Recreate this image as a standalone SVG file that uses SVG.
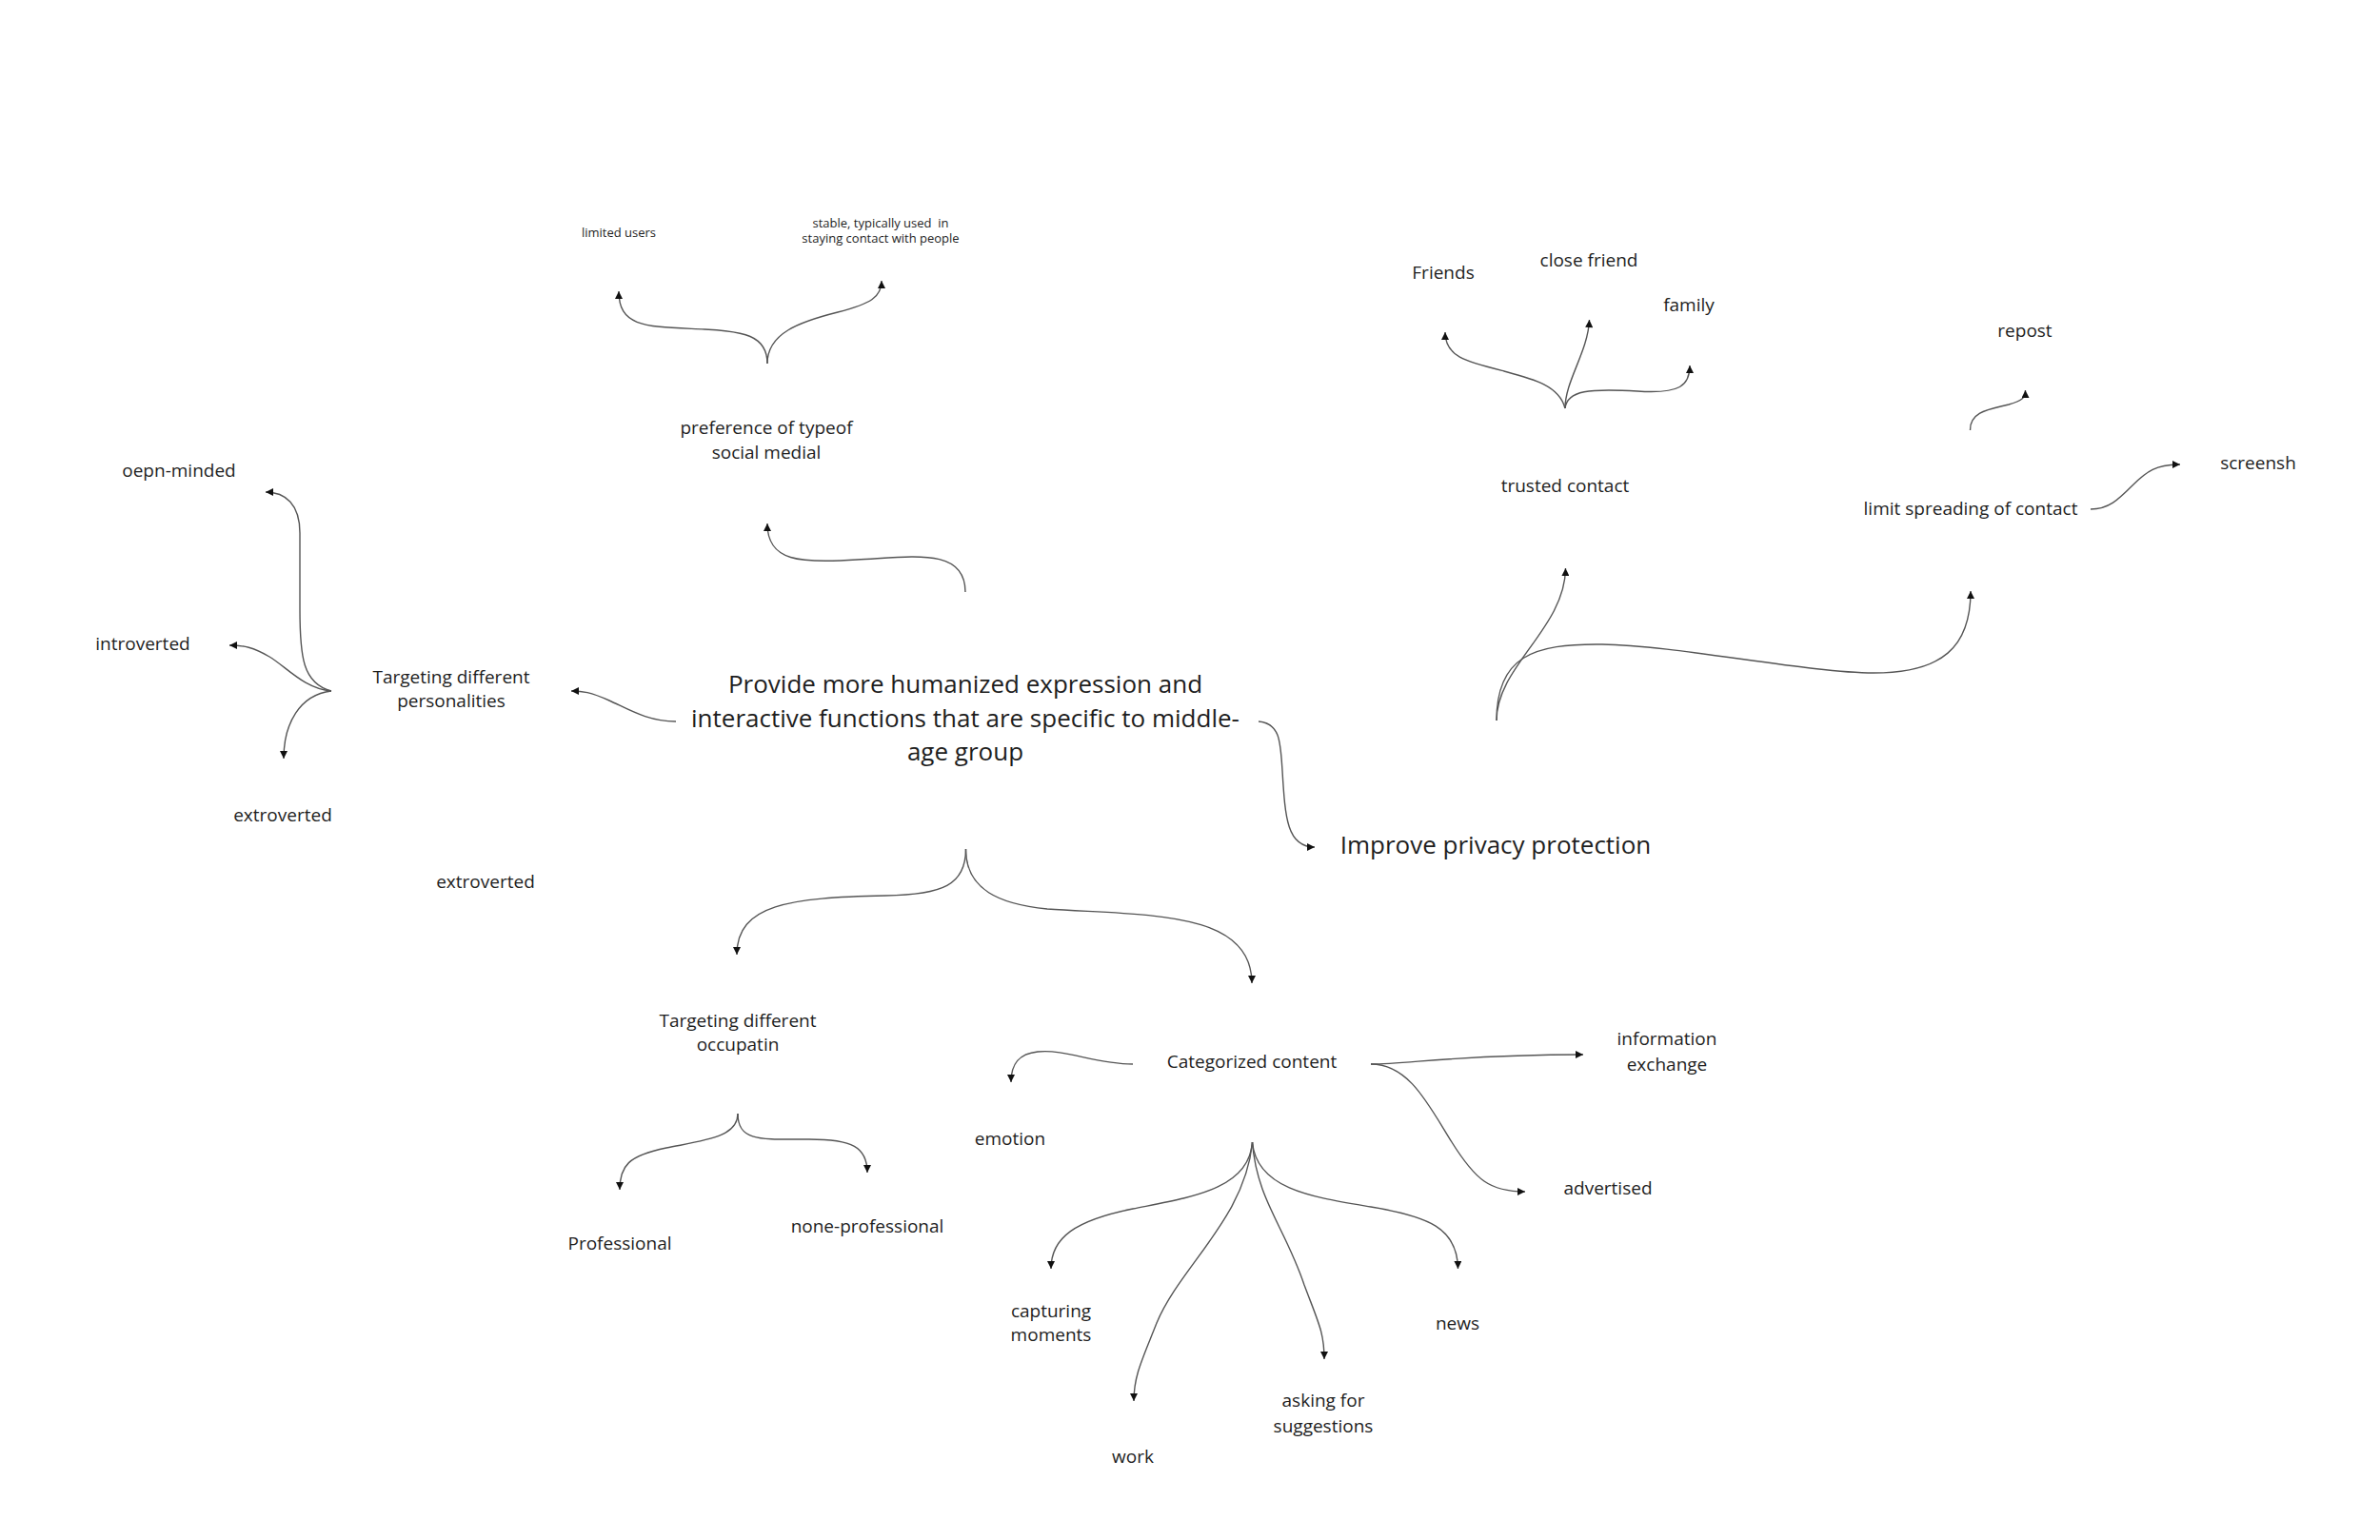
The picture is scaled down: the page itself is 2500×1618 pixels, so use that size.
<svg xmlns="http://www.w3.org/2000/svg" width="2500" height="1618" viewBox="0 0 2500 1618">
<style>
text{font-family:"Open Sans","Noto Sans","Liberation Sans",sans-serif;fill:#1e1e1e;text-anchor:middle}
.lbl{font-size:19px}
.sm{font-size:13px}
.main{font-size:26px}
.big{font-size:26px}
.c path{fill:none;stroke:#555;stroke-width:1.4;marker-end:url(#ah)}
</style>
<defs>
<marker id="ah" viewBox="0 0 10 10" refX="10" refY="5" markerWidth="9" markerHeight="8" markerUnits="userSpaceOnUse" orient="auto">
<path d="M0,0 L10,5 L0,10 z" fill="#111"/>
</marker>
</defs>
<rect width="2500" height="1618" fill="#fff"/>
<g class="c" id="connectors">
<path d="M1014,622 C1014,575 960,585 900,588 C840,592 806,590 806,550"/>
<path d="M806,382 C806,352 780,348 740,346 C680,343 650,345 650,306"/>
<path d="M806,382 C806,350 840,338 880,328 C915,319 926,312 926,295"/>
<path d="M1644,429 C1638,405 1610,398 1580,390 C1540,380 1518,375 1518,349"/>
<path d="M1644,429 C1644,400 1668,370 1669.5,336"/>
<path d="M1644,429 C1646,410 1670,408 1720,411 C1765,414 1775,405 1775,384"/>
<path d="M2069.5,452 C2069,432 2090,430 2110,425 C2124,421 2127.5,418 2127.5,410"/>
<path d="M2196,535 C2215,535 2225,525 2240,510 C2255,495 2265,488 2290,488"/>
<path d="M1572,757 C1572,700 1644,660 1644.5,597"/>
<path d="M1572,757 C1572,690 1610,676 1683,677 C1760,678 1900,707 1968,707 C2040,707 2070,680 2070,621"/>
<path d="M710,758 C680,758 660,745 640,736 C620,727 612,726 600,726"/>
<path d="M348,726 C318,718 315,690 315,640 L315,560 C315,530 300,517 279,517"/>
<path d="M348,726 C320,724 300,700 283,690 C266,680 256,678 241,678"/>
<path d="M348,726 C315,730 298,760 298,797"/>
<path d="M1322,758 C1345,760 1345,780 1347,810 C1350,860 1352,890 1381,890"/>
<path d="M1014.5,892 C1014.5,930 990,940 930,941 C830,943 774,950 774,1003"/>
<path d="M1014.5,892 C1014.5,935 1050,950 1100,955 C1200,962 1315,955 1315,1033"/>
<path d="M775,1170 C775,1195 740,1198 700,1206 C660,1214 651,1225 651,1250"/>
<path d="M775,1170 C775,1200 800,1197 850,1197 C895,1197 911,1205 911,1232"/>
<path d="M1190,1118 C1150,1118 1120,1102 1090,1105 C1070,1107 1062,1118 1062,1137"/>
<path d="M1440,1118 C1480,1118 1530,1108 1663,1108"/>
<path d="M1440,1118 C1480,1118 1500,1160 1525,1200 C1550,1240 1565,1252 1602,1252"/>
<path d="M1315.5,1200 C1312,1250 1250,1258 1190,1270 C1130,1282 1104,1300 1104,1333"/>
<path d="M1315.5,1200 C1308,1280 1240,1330 1215,1390 C1200,1428 1191,1445 1191,1472"/>
<path d="M1315.5,1200 C1320,1260 1350,1290 1370,1350 C1385,1390 1391,1400 1391,1428"/>
<path d="M1315.5,1200 C1320,1250 1380,1258 1440,1268 C1500,1278 1531,1290 1531.5,1333"/>
</g>
<g id="n-main"><text class="main" x="1014" y="728">Provide more humanized expression and</text><text class="main" x="1014" y="764">interactive functions that are specific to middle-</text><text class="main" x="1014" y="799">age group</text></g>
<g id="n-privacy"><text class="big" x="1571" y="897">Improve privacy protection</text></g>
<g id="n-pref"><text class="lbl" x="805" y="456">preference of typeof</text><text class="lbl" x="805" y="482">social medial</text></g>
<g id="n-limited"><text class="sm" x="650" y="249">limited users</text></g>
<g id="n-stable"><text class="sm" x="925" y="239" style="white-space:pre">stable, typically used  in</text><text class="sm" x="925" y="255">staying contact with people</text></g>
<g id="n-pers"><text class="lbl" x="474" y="718">Targeting different</text><text class="lbl" x="474" y="743">personalities</text></g>
<g id="n-open"><text class="lbl" x="188" y="501">oepn-minded</text></g>
<g id="n-intro"><text class="lbl" x="150" y="683">introverted</text></g>
<g id="n-extro1"><text class="lbl" x="297" y="863">extroverted</text></g>
<g id="n-extro2"><text class="lbl" x="510" y="933">extroverted</text></g>
<g id="n-trusted"><text class="lbl" x="1644" y="517">trusted contact</text></g>
<g id="n-friends"><text class="lbl" x="1516" y="293">Friends</text></g>
<g id="n-close"><text class="lbl" x="1669" y="280">close friend</text></g>
<g id="n-family"><text class="lbl" x="1774" y="327">family</text></g>
<g id="n-repost"><text class="lbl" x="2127" y="354">repost</text></g>
<g id="n-limit"><text class="lbl" x="2070" y="541">limit spreading of contact</text></g>
<g id="n-screen"><text class="lbl" x="2372" y="493">screensh</text></g>
<g id="n-occ"><text class="lbl" x="775" y="1079">Targeting different</text><text class="lbl" x="775" y="1104">occupatin</text></g>
<g id="n-cat"><text class="lbl" x="1315" y="1122">Categorized content</text></g>
<g id="n-info"><text class="lbl" x="1751" y="1098">information</text><text class="lbl" x="1751" y="1125">exchange</text></g>
<g id="n-emotion"><text class="lbl" x="1061" y="1203">emotion</text></g>
<g id="n-adv"><text class="lbl" x="1689" y="1255">advertised</text></g>
<g id="n-prof"><text class="lbl" x="651" y="1313">Professional</text></g>
<g id="n-nonprof"><text class="lbl" x="911" y="1295">none-professional</text></g>
<g id="n-capt"><text class="lbl" x="1104" y="1384">capturing</text><text class="lbl" x="1104" y="1409">moments</text></g>
<g id="n-news"><text class="lbl" x="1531" y="1397">news</text></g>
<g id="n-ask"><text class="lbl" x="1390" y="1478">asking for</text><text class="lbl" x="1390" y="1505">suggestions</text></g>
<g id="n-work"><text class="lbl" x="1190" y="1537">work</text></g>
</svg>
